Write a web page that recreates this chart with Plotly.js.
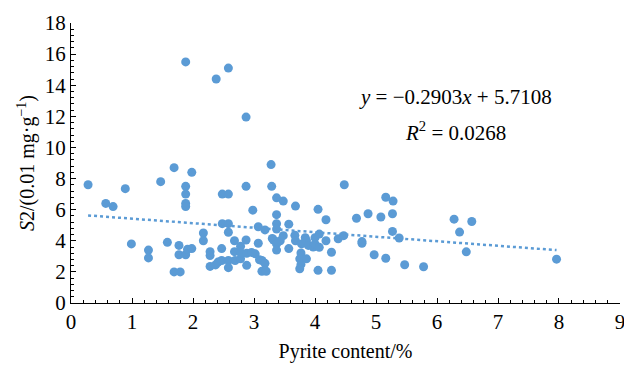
<!DOCTYPE html>
<html>
<head>
<meta charset="utf-8">
<script src="https://cdn.plot.ly/plotly-3.0.1.min.js"></script>
<style>html,body{margin:0;padding:0;background:#fff}#chart{width:624px;height:366px}</style>
</head>
<body>
<div id="chart"></div>
<script>
const pyrite = [0.28,0.57,0.69,0.89,0.99,1.27,1.27,1.47,1.58,1.69,1.69,1.79,1.77,1.77,1.88,1.88,1.88,1.88,1.88,1.91,1.98,1.98,1.88,2.38,2.58,2.87,
2.17,2.17,2.28,2.28,2.28,2.37,2.41,2.48,2.58,2.48,2.58,2.58,2.47,2.47,2.58,2.58,2.68,2.68,2.69,2.78,2.78,2.79,2.87,2.87,2.88,2.88,2.96,2.98,3.02,
3.07,3.07,3.09,3.13,3.13,3.18,3.18,3.2,3.28,3.29,3.3,3.37,3.48,3.37,3.37,3.37,3.32,3.43,3.37,3.37,3.57,3.57,3.48,3.67,3.68,3.68,
3.77,3.75,3.77,3.75,3.86,3.84,3.86,3.78,3.89,3.97,4.0,4.0,4.07,4.05,4.07,4.05,4.18,4.18,4.27,4.27,4.38,4.47,4.48,4.68,4.77,4.77,4.87,4.97,
5.08,5.16,5.16,5.28,5.27,5.27,5.38,5.47,5.78,6.28,6.37,6.48,6.57,7.96];
const s2 = [7.6,6.4,6.2,7.35,3.8,3.4,2.9,7.8,3.9,8.7,2.0,2.0,3.7,3.1,7.5,7.0,6.4,6.2,3.1,3.45,3.5,8.4,15.5,14.4,15.1,11.95,
4.5,4.0,3.3,3.05,2.35,2.45,2.63,7.0,7.0,5.1,5.1,4.55,3.5,2.73,2.73,2.27,4.0,3.3,2.73,3.65,2.84,3.2,7.5,4.05,3.2,2.42,3.25,5.97,3.16,
4.9,3.84,2.78,2.73,2.04,4.7,2.55,2.04,8.9,7.5,4.15,6.76,6.55,5.68,5.1,4.75,4.05,4.0,3.8,3.4,5.07,3.5,4.33,4.35,6.23,4.0,
3.22,2.84,2.48,2.2,2.84,4.2,4.0,3.8,3.7,3.6,3.8,4.2,4.43,6.02,3.58,2.1,5.35,4.0,3.26,2.1,4.13,4.33,7.6,5.45,3.95,3.84,5.74,3.1,
5.53,6.8,2.88,6.55,5.74,4.6,4.18,2.46,2.33,5.39,4.56,3.29,5.24,2.82];
const trendX = [0.28, 7.96];
const trendY = [5.63, 3.40];
const eqText = "<i>y</i> = −0.2903<i>x</i> + 5.7108";
const r2Text = "<i>R</i><sup>2</sup> = 0.0268";
const xTitle = "Pyrite content/%";
const yTitle = "<i>S</i>2/(0.01 mg·g<sup>−1</sup>)";

const blue = '#5b9bd5';
const font = {family: '"Liberation Serif", "Times New Roman", serif', color: '#000'};

const data = [
  {x: pyrite, y: s2, type: 'scatter', mode: 'markers',
   marker: {color: blue, size: 9}, hoverinfo: 'skip', cliponaxis: false},
  {x: trendX, y: trendY, type: 'scatter', mode: 'lines',
   line: {color: blue, width: 2.5, dash: 'dot'}, hoverinfo: 'skip'}
];
const axBase = {
  showgrid: false, zeroline: false, showline: true, linecolor: '#000', linewidth: 1,
  ticks: 'inside', ticklen: 5, tickcolor: '#000', tickwidth: 1,
  tickfont: Object.assign({size: 21}, font),
  ticklabeloverflow: 'allow',
  minor: {ticks: 'inside', ticklen: 3, tickcolor: '#000', tickwidth: 1}
};
const layout = {
  width: 624, height: 366,
  margin: {l: 71, r: 4, t: 23, b: 63},
  paper_bgcolor: '#fff', plot_bgcolor: '#fff',
  showlegend: false,
  font: font,
  xaxis: Object.assign({}, axBase, {range: [0, 9.0001], tickvals: [0,1,2,3,4,5,6,7,8,9],
    minor: Object.assign({}, axBase.minor, {dtick: 0.2, tick0: 0}),
    automargin: false,
    title: {text: xTitle, font: Object.assign({size: 20}, font), standoff: 10}}),
  yaxis: Object.assign({}, axBase, {range: [0, 18], dtick: 2, tick0: 0,
    minor: Object.assign({}, axBase.minor, {dtick: 0.4, tick0: 0}),
    automargin: false,
    title: {text: yTitle, font: Object.assign({size: 20}, font), standoff: 4}}),
  annotations: [
    {xref: 'paper', yref: 'paper', x: 0.701, y: 0.736, text: eqText, showarrow: false,
     font: Object.assign({size: 21}, font), xanchor: 'center', yanchor: 'middle'},
    {xref: 'paper', yref: 'paper', x: 0.70, y: 0.614, text: r2Text, showarrow: false,
     font: Object.assign({size: 21}, font), xanchor: 'center', yanchor: 'middle'}
  ]
};
Plotly.newPlot('chart', data, layout, {displayModeBar: false, staticPlot: true});
</script>
</body>
</html>
